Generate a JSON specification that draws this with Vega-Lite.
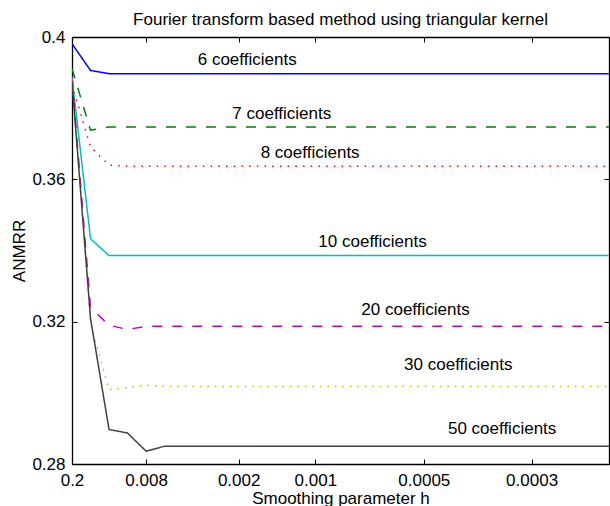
{
  "$schema": "https://vega.github.io/schema/vega-lite/v6.json",
  "width": 537,
  "height": 427,
  "autosize": {"type": "none"},
  "padding": {"left": 72, "top": 37, "right": 1, "bottom": 42},
  "background": "white",
  "title": {
    "text": "Fourier transform based method using triangular kernel",
    "font": "Liberation Sans",
    "fontSize": 17,
    "fontWeight": "normal",
    "color": "#000000",
    "anchor": "middle",
    "baseline": "alphabetic",
    "offset": 10,
    "dy": 24
  },
  "config": {
    "font": "Liberation Sans",
    "view": {"stroke": null},
    "axis": {
      "domainColor": "#000000",
      "domainWidth": 1.3,
      "tickColor": "#000000",
      "tickWidth": 1,
      "tickSize": -5,
      "labelFont": "Liberation Sans",
      "labelFontSize": 17,
      "labelColor": "#000000",
      "titleFont": "Liberation Sans",
      "titleFontSize": 17,
      "titleFontWeight": "normal",
      "titleColor": "#000000",
      "grid": false,
      "labelFlush": false,
      "labelOverlap": false
    }
  },
  "layer": [
    {
      "data": {
        "values": [
          {"h": 0.2, "c6": 0.3981, "c7": 0.3911, "c8": 0.3866, "c10": 0.3888, "c20": 0.3885, "c30": 0.3882, "c50": 0.3876},
          {"h": 0.05, "c6": 0.3906, "c7": 0.3738, "c8": 0.3691, "c10": 0.3433, "c20": 0.3240, "c30": 0.3195, "c50": 0.3209},
          {"h": 0.0222222, "c6": 0.3897, "c7": 0.3747, "c8": 0.3640, "c10": 0.3386, "c20": 0.3190, "c30": 0.3009, "c50": 0.2897},
          {"h": 0.0125, "c6": 0.3897, "c7": 0.3747, "c8": 0.3637, "c10": 0.3386, "c20": 0.3178, "c30": 0.3015, "c50": 0.2887},
          {"h": 0.008, "c6": 0.3897, "c7": 0.3747, "c8": 0.3637, "c10": 0.3386, "c20": 0.3187, "c30": 0.3021, "c50": 0.2836},
          {"h": 0.00555556, "c6": 0.3897, "c7": 0.3747, "c8": 0.3637, "c10": 0.3386, "c20": 0.3187, "c30": 0.3018, "c50": 0.2850},
          {"h": 0.00408163, "c6": 0.3897, "c7": 0.3747, "c8": 0.3637, "c10": 0.3386, "c20": 0.3187, "c30": 0.3018, "c50": 0.2850},
          {"h": 0.003125, "c6": 0.3897, "c7": 0.3747, "c8": 0.3637, "c10": 0.3386, "c20": 0.3187, "c30": 0.3018, "c50": 0.2850},
          {"h": 0.00246914, "c6": 0.3897, "c7": 0.3747, "c8": 0.3637, "c10": 0.3386, "c20": 0.3187, "c30": 0.3018, "c50": 0.2850},
          {"h": 0.002, "c6": 0.3897, "c7": 0.3747, "c8": 0.3637, "c10": 0.3386, "c20": 0.3187, "c30": 0.3018, "c50": 0.2850},
          {"h": 0.00165289, "c6": 0.3897, "c7": 0.3747, "c8": 0.3637, "c10": 0.3386, "c20": 0.3187, "c30": 0.3018, "c50": 0.2850},
          {"h": 0.00138889, "c6": 0.3897, "c7": 0.3747, "c8": 0.3637, "c10": 0.3386, "c20": 0.3187, "c30": 0.3018, "c50": 0.2850},
          {"h": 0.00118343, "c6": 0.3897, "c7": 0.3747, "c8": 0.3637, "c10": 0.3386, "c20": 0.3187, "c30": 0.3018, "c50": 0.2850},
          {"h": 0.00102041, "c6": 0.3897, "c7": 0.3747, "c8": 0.3637, "c10": 0.3386, "c20": 0.3187, "c30": 0.3018, "c50": 0.2850},
          {"h": 0.000888889, "c6": 0.3897, "c7": 0.3747, "c8": 0.3637, "c10": 0.3386, "c20": 0.3187, "c30": 0.3018, "c50": 0.2850},
          {"h": 0.00078125, "c6": 0.3897, "c7": 0.3747, "c8": 0.3637, "c10": 0.3386, "c20": 0.3187, "c30": 0.3018, "c50": 0.2850},
          {"h": 0.000692042, "c6": 0.3897, "c7": 0.3747, "c8": 0.3637, "c10": 0.3386, "c20": 0.3187, "c30": 0.3018, "c50": 0.2850},
          {"h": 0.000617284, "c6": 0.3897, "c7": 0.3747, "c8": 0.3637, "c10": 0.3386, "c20": 0.3187, "c30": 0.3018, "c50": 0.2850},
          {"h": 0.000554017, "c6": 0.3897, "c7": 0.3747, "c8": 0.3637, "c10": 0.3386, "c20": 0.3187, "c30": 0.3018, "c50": 0.2850},
          {"h": 0.0005, "c6": 0.3897, "c7": 0.3747, "c8": 0.3637, "c10": 0.3386, "c20": 0.3187, "c30": 0.3018, "c50": 0.2850},
          {"h": 0.000453515, "c6": 0.3897, "c7": 0.3747, "c8": 0.3637, "c10": 0.3386, "c20": 0.3187, "c30": 0.3018, "c50": 0.2850},
          {"h": 0.000413223, "c6": 0.3897, "c7": 0.3747, "c8": 0.3637, "c10": 0.3386, "c20": 0.3187, "c30": 0.3018, "c50": 0.2850},
          {"h": 0.000378072, "c6": 0.3897, "c7": 0.3747, "c8": 0.3637, "c10": 0.3386, "c20": 0.3187, "c30": 0.3018, "c50": 0.2850},
          {"h": 0.000347222, "c6": 0.3897, "c7": 0.3747, "c8": 0.3637, "c10": 0.3386, "c20": 0.3187, "c30": 0.3018, "c50": 0.2850},
          {"h": 0.00032, "c6": 0.3897, "c7": 0.3747, "c8": 0.3637, "c10": 0.3386, "c20": 0.3187, "c30": 0.3018, "c50": 0.2850},
          {"h": 0.000295858, "c6": 0.3897, "c7": 0.3747, "c8": 0.3637, "c10": 0.3386, "c20": 0.3187, "c30": 0.3018, "c50": 0.2850},
          {"h": 0.000274348, "c6": 0.3897, "c7": 0.3747, "c8": 0.3637, "c10": 0.3386, "c20": 0.3187, "c30": 0.3018, "c50": 0.2850},
          {"h": 0.000255102, "c6": 0.3897, "c7": 0.3747, "c8": 0.3637, "c10": 0.3386, "c20": 0.3187, "c30": 0.3018, "c50": 0.2850},
          {"h": 0.000237812, "c6": 0.3897, "c7": 0.3747, "c8": 0.3637, "c10": 0.3386, "c20": 0.3187, "c30": 0.3018, "c50": 0.2850},
          {"h": 0.000222222, "c6": 0.3897, "c7": 0.3747, "c8": 0.3637, "c10": 0.3386, "c20": 0.3187, "c30": 0.3018, "c50": 0.2850}
        ]
      },
      "transform": [
        {"fold": ["c6", "c7", "c8", "c10", "c20", "c30", "c50"], "as": ["series", "v"]}
      ],
      "mark": {"type": "line", "strokeWidth": 1.5, "clip": true},
      "encoding": {
        "x": {
          "field": "h",
          "type": "quantitative",
          "scale": {"type": "pow", "exponent": -0.5, "domain": [0.2, 0.000222222], "nice": false, "zero": false},
          "axis": {
            "orient": "bottom",
            "values": [0.2, 0.008, 0.002, 0.001, 0.0005, 0.0003],
            "labelExpr": "'' + datum.value",
            "labelPadding": 13,
            "title": "Smoothing parameter h",
            "titlePadding": 2
          }
        },
        "y": {
          "field": "v",
          "type": "quantitative",
          "scale": {"domain": [0.28, 0.4], "nice": false, "zero": false},
          "axis": {
            "orient": "left",
            "values": [0.28, 0.32, 0.36, 0.4],
            "labelExpr": "'' + datum.value",
            "labelPadding": 12,
            "title": "ANMRR",
            "titlePadding": 3
          }
        },
        "color": {
          "field": "series",
          "type": "nominal",
          "scale": {
            "domain": ["c6", "c7", "c8", "c10", "c20", "c30", "c50"],
            "range": ["#0000ff", "#008000", "#ff0000", "#00bfbf", "#bf00bf", "#bfbf00", "#404040"]
          },
          "legend": null
        },
        "strokeDash": {
          "field": "series",
          "type": "nominal",
          "scale": {
            "domain": ["c6", "c7", "c8", "c10", "c20", "c30", "c50"],
            "range": [[1, 0], [10, 10], [1.5, 6.2], [1, 0], [10, 10], [1.5, 6], [1, 0]]
          },
          "legend": null
        }
      }
    },
    {
      "data": {
        "values": [
          {"label": "6 coefficients", "h": 0.001828, "v": 0.3920},
          {"label": "7 coefficients", "h": 0.001316, "v": 0.3769},
          {"label": "8 coefficients", "h": 0.001041, "v": 0.3661},
          {"label": "10 coefficients", "h": 0.0006736, "v": 0.3410},
          {"label": "20 coefficients", "h": 0.0005233, "v": 0.3218},
          {"label": "30 coefficients", "h": 0.0004185, "v": 0.3063},
          {"label": "50 coefficients", "h": 0.0003407, "v": 0.2885}
        ]
      },
      "mark": {"type": "text", "align": "center", "baseline": "alphabetic", "font": "Liberation Sans", "fontSize": 17, "color": "#000000"},
      "encoding": {
        "x": {
          "field": "h",
          "type": "quantitative",
          "axis": {"orient": "top", "values": [0.2, 0.008, 0.002, 0.001, 0.0005, 0.0003], "labels": false, "title": null}
        },
        "y": {
          "field": "v",
          "type": "quantitative",
          "axis": {"orient": "right", "values": [0.28, 0.32, 0.36, 0.4], "labels": false, "title": null}
        },
        "text": {"field": "label"}
      }
    }
  ],
  "resolve": {"axis": {"x": "independent", "y": "independent"}}
}
